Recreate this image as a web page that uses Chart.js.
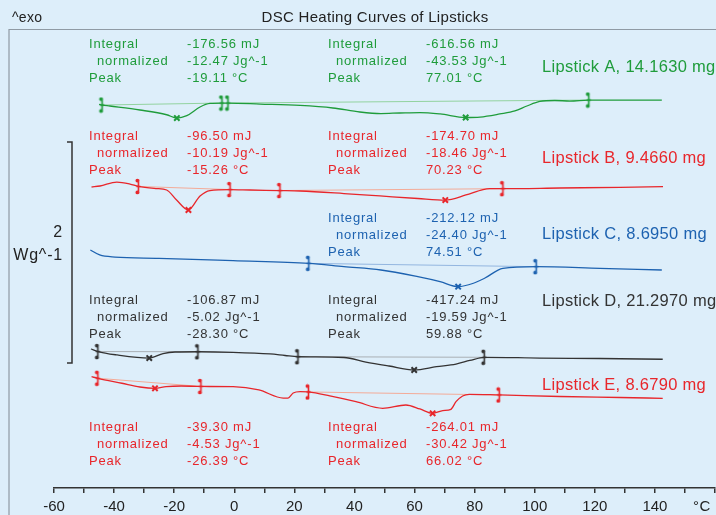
<!DOCTYPE html>
<html>
<head>
<meta charset="utf-8">
<title>DSC Heating Curves of Lipsticks</title>
<script src="https://cdn.jsdelivr.net/npm/chart.js@4.4.1/dist/chart.umd.min.js"></script>
<style>
    html, body { margin: 0; padding: 0; background: #ddeefa; }
    #dsc { display: block; }
</style>
</head>
<body>
<canvas id="dsc" width="716" height="515"></canvas>
<script>
(function() {
    'use strict';

    // heat flow in W/g (curves shifted vertically as in the plot), temperature in °C
    const sampleNames = ['Lipstick A, 14.1630 mg', 'Lipstick B, 9.4660 mg', 'Lipstick C, 8.6950 mg',
                         'Lipstick D, 21.2970 mg', 'Lipstick E, 8.6790 mg'];
    const rowLabels = ['Integral', 'normalized', 'Peak'];

    // Lipstick A
    const tempA = [-45.0, -44.0, -41.4, -31.4, -22.5, -19.1, -15.8, -11.4, -8.1, -4.1, -2.1, 8.6, 21.9, 32.8, 41.8,
                   48.8, 55.1, 61.8, 68.5, 77.0, 81.8, 88.4, 93.4, 97.4, 101.7, 106.7, 111.7, 118.0, 128.4, 142.3];
    const flowA = [3.471, 3.466, 3.457, 3.421, 3.378, 3.348, 3.370, 3.448, 3.480, 3.484, 3.484, 3.475, 3.462, 3.439, 3.403,
                   3.389, 3.394, 3.398, 3.385, 3.353, 3.357, 3.385, 3.412, 3.457, 3.498, 3.507, 3.502, 3.511, 3.511, 3.511];
    const limTempA = [-44.0, -4.1, -2.1, 118.0];
    const limFlowA = [3.466, 3.484, 3.484, 3.511];
    const peakTempA = [-19.11, 77.01];
    const peakFlowA = [3.348, 3.353];
    const resultsA = [['-176.56 mJ', '-12.47 Jg^-1', '-19.11 °C'], ['-616.56 mJ', '-43.53 Jg^-1', '77.01 °C']];

    // Lipstick B
    const tempB = [-47.5, -44.7, -39.1, -34.7, -31.9, -26.1, -22.5, -19.2, -15.3, -11.4, -8.1, -1.4, 5.2, 15.2, 21.9,
                   36.5, 48.5, 61.1, 70.2, 77.1, 82.8, 85.1, 89.4, 108.4, 128.4, 142.7];
    const flowB = [2.724, 2.733, 2.769, 2.751, 2.729, 2.710, 2.697, 2.606, 2.516, 2.643, 2.692, 2.701, 2.697, 2.692, 2.688,
                   2.665, 2.643, 2.620, 2.606, 2.652, 2.701, 2.709, 2.709, 2.715, 2.721, 2.727];
    const limTempB = [-31.9, -1.4, 15.2, 89.4];
    const limFlowB = [2.729, 2.701, 2.692, 2.709];
    const peakTempB = [-15.26, 70.23];
    const peakFlowB = [2.516, 2.606];
    const resultsB = [['-96.50 mJ', '-10.19 Jg^-1', '-15.26 °C'], ['-174.70 mJ', '-18.46 Jg^-1', '70.23 °C']];

    // Lipstick C
    const tempC = [-47.9, -44.8, -39.7, -25.1, -0.4, 24.8, 36.5, 48.8, 61.1, 68.5, 74.5, 79.6, 83.3, 89.4, 100.5, 121.7, 142.3];
    const flowC = [2.154, 2.109, 2.090, 2.079, 2.057, 2.033, 2.003, 1.973, 1.912, 1.867, 1.822, 1.853, 1.898, 1.988, 2.003, 1.988, 1.973];
    const limTempC = [24.8, 100.5];
    const limFlowC = [2.033, 2.003];
    const peakTempC = [74.51];
    const peakFlowC = [1.822];
    const resultsC = [['-212.12 mJ', '-24.40 Jg^-1', '74.51 °C']];

    // Lipstick D
    const tempD = [-47.7, -45.4, -39.0, -28.3, -23.7, -19.7, -12.1, -0.4, 11.9, 16.9, 21.2, 36.5, 43.8, 51.5, 59.9,
                   67.3, 73.8, 78.4, 83.2, 101.7, 121.7, 142.6];
    const flowD = [1.258, 1.235, 1.204, 1.176, 1.217, 1.231, 1.233, 1.228, 1.213, 1.199, 1.188, 1.181, 1.140, 1.104, 1.068,
                   1.098, 1.122, 1.154, 1.183, 1.176, 1.172, 1.165];
    const limTempD = [-45.4, -12.1, 21.2, 83.2];
    const limFlowD = [1.235, 1.233, 1.188, 1.183];
    const peakTempD = [-28.30, 59.88];
    const peakFlowD = [1.176, 1.068];
    const resultsD = [['-106.87 mJ', '-5.02 Jg^-1', '-28.30 °C'], ['-417.24 mJ', '-19.59 Jg^-1', '59.88 °C']];

    // Lipstick E
    const tempE = [-47.5, -45.4, -37.4, -31.4, -26.4, -22.7, -17.7, -11.1, -0.4, 8.2, 16.3, 17.9, 19.6, 21.9, 24.7,
                   31.8, 40.5, 49.4, 57.1, 61.8, 66.0, 69.4, 72.1, 73.8, 76.0, 78.2, 88.2, 108.4, 128.4, 142.6];
    const flowE = [1.007, 0.993, 0.948, 0.914, 0.902, 0.917, 0.923, 0.919, 0.917, 0.887, 0.814, 0.814, 0.860, 0.873, 0.869,
                   0.833, 0.781, 0.721, 0.751, 0.715, 0.676, 0.700, 0.712, 0.781, 0.833, 0.848, 0.842, 0.828, 0.819, 0.812];
    const limTempE = [-45.4, -11.1, 24.7, 88.2];
    const limFlowE = [0.993, 0.919, 0.869, 0.842];
    const peakTempE = [-26.39, 66.02];
    const peakFlowE = [0.902, 0.676];
    const resultsE = [['-39.30 mJ', '-4.53 Jg^-1', '-26.39 °C'], ['-264.01 mJ', '-30.42 Jg^-1', '66.02 °C']];

    // scale bar: 2 W/g
    const scaleBarFrom = 1.131;
    const scaleBarSize = 2;

    const FONT = '"Liberation Sans", Arial, Helvetica, sans-serif';

    function pts(xs, ys) {
        return xs.map(function(x, i) { return { x: x, y: ys[i] }; });
    }

    // integration limit mark, drawn once per colour
    function limitMark(color) {
        const c = document.createElement('canvas');
        c.width = 9;
        c.height = 17;
        const g = c.getContext('2d');
        g.strokeStyle = color;
        g.fillStyle = color;
        g.lineWidth = 1.6;
        g.beginPath();
        g.moveTo(4.5, 1.5);
        g.lineTo(4.5, 15.5);
        g.moveTo(2.5, 8.5);
        g.lineTo(6.5, 8.5);
        g.stroke();
        g.beginPath();
        g.arc(3.4, 2.6, 1.9, 0, Math.PI * 2);
        g.arc(3.4, 14.4, 1.9, 0, Math.PI * 2);
        g.fill();
        return c;
    }

    const curves = [
        { name: sampleNames[0], t: tempA, hf: flowA, limT: limTempA, limHf: limFlowA, pkT: peakTempA, pkHf: peakFlowA,
          results: resultsA, color: '#1f9c3b', light: '#93d3a0',
          blocks: [[89, 44], [328, 44]], nameAt: [542, 67] },
        { name: sampleNames[1], t: tempB, hf: flowB, limT: limTempB, limHf: limFlowB, pkT: peakTempB, pkHf: peakFlowB,
          results: resultsB, color: '#e8262b', light: '#f4ab98',
          blocks: [[89, 136], [328, 136]], nameAt: [542, 158] },
        { name: sampleNames[2], t: tempC, hf: flowC, limT: limTempC, limHf: limFlowC, pkT: peakTempC, pkHf: peakFlowC,
          results: resultsC, color: '#1d62b0', light: '#93b6e0',
          blocks: [[328, 218]], nameAt: [542, 234] },
        { name: sampleNames[3], t: tempD, hf: flowD, limT: limTempD, limHf: limFlowD, pkT: peakTempD, pkHf: peakFlowD,
          results: resultsD, color: '#333333', light: '#aab0b5',
          blocks: [[89, 300], [328, 300]], nameAt: [542, 301] },
        { name: sampleNames[4], t: tempE, hf: flowE, limT: limTempE, limHf: limFlowE, pkT: peakTempE, pkHf: peakFlowE,
          results: resultsE, color: '#e8262b', light: '#f4ab98',
          blocks: [[89, 427], [328, 427]], nameAt: [542, 385] }
    ];

    const datasets = [];
    curves.forEach(function(c) {
        datasets.push({
            data: pts(c.limT, c.limHf), showLine: false, order: 0,
            pointStyle: limitMark(c.color), pointRadius: 8
        });
        datasets.push({
            data: pts(c.pkT, c.pkHf), showLine: false, order: 0,
            pointStyle: 'crossRot', pointRadius: 3.8, borderColor: c.color, pointBorderWidth: 2
        });
        datasets.push({
            data: pts(c.t, c.hf), showLine: true, order: 1,
            borderColor: c.color, borderWidth: 1.3, pointRadius: 0,
            cubicInterpolationMode: 'monotone'
        });
        for (let k = 0; k + 1 < c.limT.length; k += 2) {
            datasets.push({
                data: pts(c.limT.slice(k, k + 2), c.limHf.slice(k, k + 2)), showLine: true, order: 2,
                borderColor: c.light, borderWidth: 1, pointRadius: 0
            });
        }
    });

    const decor = {
        id: 'decor',
        beforeDraw: function(chart) {
            const ctx = chart.ctx;
            ctx.save();
            ctx.fillStyle = '#ddeefa';
            ctx.fillRect(0, 0, chart.width, chart.height);
            // frame
            ctx.strokeStyle = '#8f9aa4';
            ctx.lineWidth = 1.2;
            ctx.beginPath();
            ctx.moveTo(9, chart.height);
            ctx.lineTo(9, 29.5);
            ctx.lineTo(chart.width, 29.5);
            ctx.stroke();
            // title + exo
            ctx.fillStyle = '#222';
            ctx.textBaseline = 'middle';
            ctx.font = '15px ' + FONT;
            ctx.letterSpacing = '0.3px';
            ctx.textAlign = 'center';
            ctx.fillText('DSC Heating Curves of Lipsticks', 375, 18);
            ctx.textAlign = 'left';
            ctx.font = '14px ' + FONT;
            ctx.fillText('^exo', 12, 18);
            ctx.restore();
        },
        afterDraw: function(chart) {
            const ctx = chart.ctx;
            const y = chart.scales.y;
            ctx.save();
            ctx.textBaseline = 'middle';
            ctx.textAlign = 'left';

            curves.forEach(function(c) {
                ctx.fillStyle = c.color;
                ctx.font = '13px ' + FONT;
                ctx.letterSpacing = '0.8px';
                c.blocks.forEach(function(b, bi) {
                    rowLabels.forEach(function(lbl, r) {
                        ctx.fillText(lbl, b[0] + (r === 1 ? 8 : 0), b[1] + r * 17);
                        ctx.fillText(c.results[bi][r], b[0] + 98, b[1] + r * 17);
                    });
                });
                ctx.font = '16.5px ' + FONT;
                ctx.letterSpacing = '0.3px';
                ctx.fillText(c.name, c.nameAt[0], c.nameAt[1]);
            });

            // 2 W/g scale bar
            const top = y.getPixelForValue(scaleBarFrom + scaleBarSize);
            const bot = y.getPixelForValue(scaleBarFrom);
            ctx.strokeStyle = '#333';
            ctx.lineWidth = 1.5;
            ctx.beginPath();
            ctx.moveTo(67, top);
            ctx.lineTo(72, top);
            ctx.lineTo(72, bot);
            ctx.lineTo(67, bot);
            ctx.stroke();
            ctx.fillStyle = '#222';
            ctx.font = '16px ' + FONT;
            ctx.letterSpacing = '0.8px';
            ctx.textAlign = 'right';
            ctx.fillText(String(scaleBarSize), 63, (top + bot) / 2 - 20);
            ctx.fillText('Wg^-1', 63, (top + bot) / 2 + 3);

            ctx.font = '15px ' + FONT;
            ctx.letterSpacing = '0.5px';
            ctx.textAlign = 'center';
            ctx.fillText('°C', 702, 507);
            ctx.restore();
        }
    };

    new Chart(document.getElementById('dsc'), {
        type: 'scatter',
        data: { datasets: datasets },
        options: {
            responsive: false,
            animation: false,
            devicePixelRatio: 1,
            // no extra room for the marker images at the plot edges
            layout: { autoPadding: false, padding: { left: 54, right: 1, top: 29, bottom: 0 } },
            plugins: { legend: { display: false }, tooltip: { enabled: false } },
            scales: {
                x: {
                    type: 'linear', min: -60, max: 160,
                    afterFit: function(scale) {
                        scale.height = 27;
                        scale.paddingLeft = 0;
                        scale.paddingRight = 0;
                    },
                    border: { color: '#333', width: 1.5 },
                    grid: { drawOnChartArea: false, tickLength: 5, color: '#333', lineWidth: 1.5 },
                    ticks: {
                        stepSize: 10, autoSkip: false, maxRotation: 0, padding: 5, color: '#222',
                        font: { family: FONT, size: 15 },
                        callback: function(v) { return (v % 20 === 0 && v <= 140) ? String(v) : ''; }
                    }
                },
                y: { display: false, min: 0, max: 4.154 }
            }
        },
        plugins: [decor]
    });
})();
</script>
</body>
</html>
